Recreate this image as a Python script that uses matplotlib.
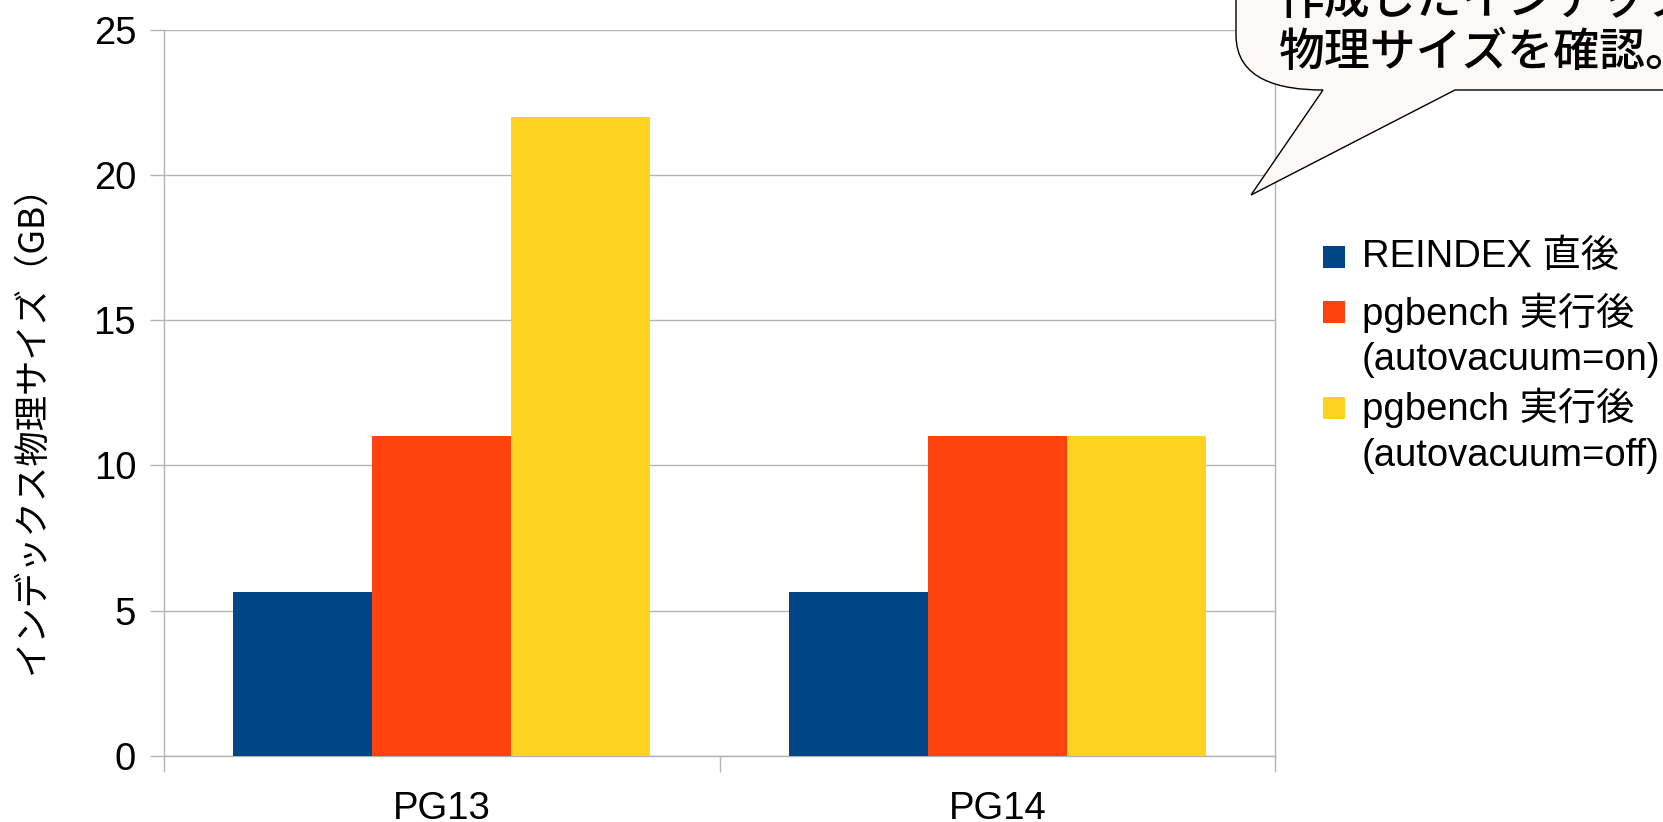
import matplotlib
matplotlib.use("Agg")
import matplotlib.pyplot as plt
import numpy as np
from matplotlib.path import Path
from matplotlib.patches import PathPatch, Rectangle

plt.rcParams['font.family'] = ['Liberation Sans', 'Noto Sans CJK JP', 'DejaVu Sans']

# data
categories = ['PG13', 'PG14']
series_names = ['REINDEX 直後',
                'pgbench 実行後\n(autovacuum=on)',
                'pgbench 実行後\n(autovacuum=off)']
reindex = [5.65, 5.65]
autovac_on = [11.0, 11.0]
autovac_off = [22.0, 11.0]
yticks = [0, 5, 10, 15, 20, 25]
callout_lines = ['作成したインデックスの', '物理サイズを確認。']

colors = ['#004586', '#ff420e', '#ffd320']
grid_c = '#b3b3b3'

W, H = 1663, 822
fig = plt.figure(figsize=(W / 100, H / 100), dpi=100)
ax = fig.add_axes([164 / W, 1 - 756 / H, (1275 - 164) / W, (756 - 29.7) / H])

def fx(x):
    return x / W

def fy(y):
    return 1 - y / H

# bars
x = np.arange(len(categories))
width = 0.25
for i, (vals, c) in enumerate(zip([reindex, autovac_on, autovac_off], colors)):
    ax.bar(x + (i - 1) * width, vals, width, color=c, zorder=3)

ax.set_xlim(-0.5, len(categories) - 0.5)
ax.set_ylim(0, 25)
ax.set_yticks(yticks)
ax.set_yticklabels([str(t) for t in yticks], fontsize=27.5)
ax.set_xticks(x)
ax.set_xticklabels(categories, fontsize=27.5)
ax.set_xticks(np.arange(len(categories) + 1) - 0.5, minor=True)

ax.tick_params(axis='x', which='major', length=0, pad=25)
ax.tick_params(axis='x', which='minor', length=11.5, width=1, color=grid_c)
ax.tick_params(axis='y', length=10, width=1, color=grid_c, pad=10)

ax.yaxis.grid(True, color=grid_c, linewidth=1, zorder=0)
ax.set_axisbelow(True)
for s in ['left', 'bottom', 'right']:
    ax.spines[s].set_color(grid_c)
    ax.spines[s].set_linewidth(1)
ax.spines['top'].set_visible(False)

ax.set_ylabel('インデックス物理サイズ（GB）', fontsize=25.5, va='center',
              family=['Noto Sans CJK JP', 'DejaVu Sans'])
ax.yaxis.set_label_coords((32 - 164) / (1275 - 164), 1 - (420 - 29.7) / (756 - 29.7))

# legend (handle aligned with the first line of each entry)
entry_y = [257, 312.5, 408]
line_step = 47.5
for name, c, y0 in zip(series_names, colors, entry_y):
    fig.add_artist(Rectangle((fx(1323), fy(y0 + 11)), 22 / W, 22 / H,
                             transform=fig.transFigure, facecolor=c,
                             edgecolor='none'))
    for k, line in enumerate(name.split('\n')):
        fig.text(fx(1362), fy(y0 + k * line_step), line, fontsize=27.5,
                 va='center', ha='left', color='black')

# callout bubble
verts = [
    (1236, -60), (1236, 35),
    (1236, 80), (1280, 90), (1323, 90),
    (1251, 195),
    (1455, 90),
    (1720, 90),
    (1720, -60),
    (1236, -60),
]
codes = [Path.MOVETO, Path.LINETO,
         Path.CURVE4, Path.CURVE4, Path.CURVE4,
         Path.LINETO, Path.LINETO, Path.LINETO, Path.LINETO, Path.CLOSEPOLY]
verts = [(fx(a), fy(b)) for a, b in verts]
bubble = PathPatch(Path(verts, codes), transform=fig.transFigure,
                   facecolor='#fcf8f6', edgecolor='black', linewidth=1, zorder=5)
fig.add_artist(bubble)
for k, line in enumerate(callout_lines):
    fig.text(fx(1279), fy(1 + k * 51), line, fontsize=33, va='center',
             ha='left', color='black', zorder=6, fontweight='medium',
             family=['Noto Sans CJK JP', 'DejaVu Sans'])

fig.savefig('out.png', dpi=100)
